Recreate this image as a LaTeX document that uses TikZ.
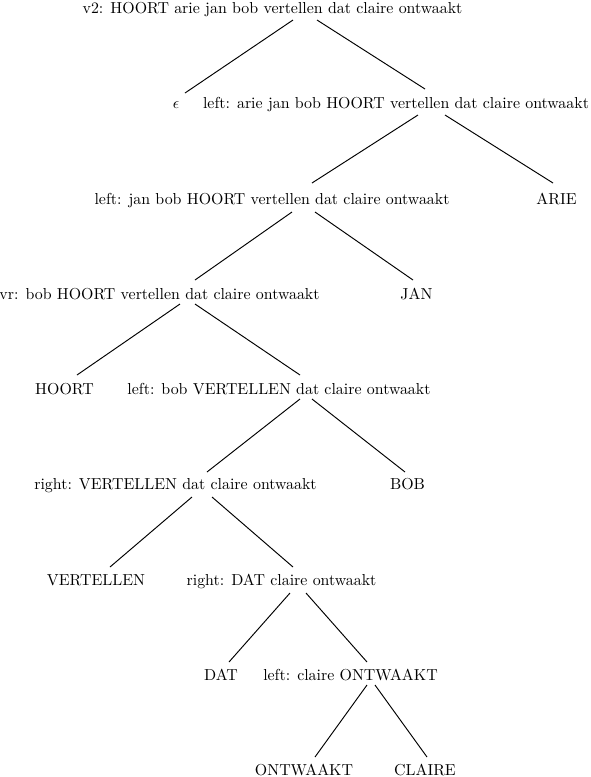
\documentclass[tikz,border=0pt]{standalone}
\usetikzlibrary{calc}
\begin{document}
\begin{tikzpicture}[x=0.629pt,y=-0.629pt,
  lab/.style={anchor=base,inner sep=0pt,outer sep=0pt},
  edge/.style={line width=0.6pt}]
\useasboundingbox (0,0) rectangle (591,777);
% nodes
\node[lab] (root) at (272.5,13) {v2: HOORT arie jan bob vertellen dat claire ontwaakt};
\node[lab] (eps) at (176,108) {$\epsilon$};
\node[lab] (left1) at (396,108) {left: arie jan bob HOORT vertellen dat claire ontwaakt};
\node[lab] (left2) at (272,204) {left: jan bob HOORT vertellen dat claire ontwaakt};
\node[lab] (arie) at (556.5,204) {ARIE};
\node[lab] (vr) at (159.5,299) {vr: bob HOORT vertellen dat claire ontwaakt};
\node[lab] (jan) at (416.5,299) {JAN};
\node[lab] (hoort) at (64.5,394) {HOORT};
\node[lab] (left3) at (279,394) {left: bob VERTELLEN dat claire ontwaakt};
\node[lab] (right1) at (175.5,489) {right: VERTELLEN dat claire ontwaakt};
\node[lab] (bob) at (407.5,489) {BOB};
\node[lab] (vertellen) at (96,585) {VERTELLEN};
\node[lab] (right2) at (281.5,585) {right: DAT claire ontwaakt};
\node[lab] (dat) at (221,680) {DAT};
\node[lab] (left4) at (350.5,680) {left: claire ONTWAAKT};
\node[lab] (ontwaakt) at (304,775) {ONTWAAKT};
\node[lab] (claire) at (425,775) {CLAIRE};
% edges
\draw[edge] ($(root.base)+(20.5,7)$) -- ($(eps.base)+(9,-15)$);
\draw[edge] ($(root.base)+(44.5,7)$) -- ($(left1.base)+(29,-19)$);
\draw[edge] ($(left1.base)+(22,7)$) -- ($(left2.base)+(40,-21)$);
\draw[edge] ($(left1.base)+(49,7)$) -- ($(arie.base)+(-3.5,-21)$);
\draw[edge] ($(left2.base)+(20,8)$) -- ($(vr.base)+(35.5,-19)$);
\draw[edge] ($(left2.base)+(43,8)$) -- ($(jan.base)+(-3.5,-19)$);
\draw[edge] ($(vr.base)+(20.5,5)$) -- ($(hoort.base)+(12.5,-19)$);
\draw[edge] ($(vr.base)+(35.5,5)$) -- ($(left3.base)+(21,-19)$);
\draw[edge] ($(left3.base)+(21,5)$) -- ($(right1.base)+(31.5,-17)$);
\draw[edge] ($(left3.base)+(33,5)$) -- ($(bob.base)+(-2.5,-17)$);
\draw[edge] ($(right1.base)+(16.5,8)$) -- ($(vertellen.base)+(14,-18)$);
\draw[edge] ($(right1.base)+(36.5,8)$) -- ($(right2.base)+(11.5,-18)$);
\draw[edge] ($(right2.base)+(8.5,8)$) -- ($(dat.base)+(8,-18)$);
\draw[edge] ($(right2.base)+(24.5,8)$) -- ($(left4.base)+(16.5,-18)$);
\draw[edge] ($(left4.base)+(16.5,5)$) -- ($(ontwaakt.base)+(11,-18)$);
\draw[edge] ($(left4.base)+(24.5,5)$) -- ($(claire.base)+(2,-18)$);
\end{tikzpicture}
\end{document}
